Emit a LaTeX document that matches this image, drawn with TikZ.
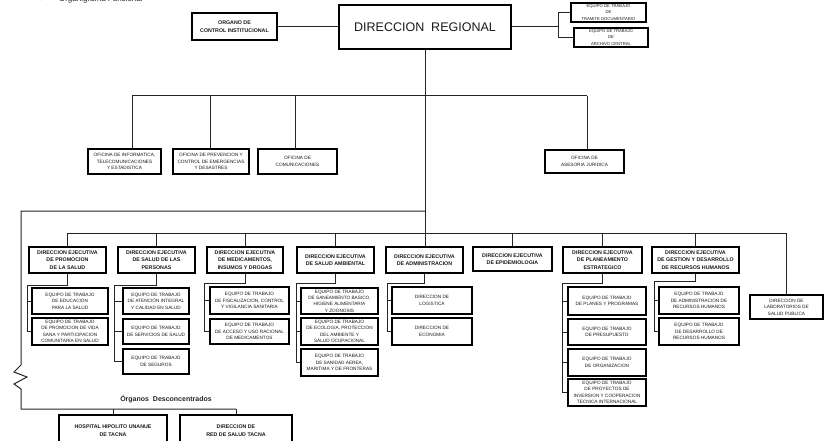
\documentclass[tikz,border=0pt]{standalone}
\usepackage{fontspec}
\setmainfont{Liberation Sans}
\newfontfamily\symfont{DejaVu Sans}
% \orgbox[style]{name}{x1}{y1}{x2}{y2}{text}: a framed box given by its corners
\newcommand\orgbox[7][box]{%
  \node[#1, minimum width={#5-#3}, minimum height={#6-#4}] (#2)
    at ({(#3+#5)/2},{(#4+#6)/2}) {#7};}
\begin{document}
\begin{tikzpicture}[x=1pt,y=-1pt,
  box/.style={draw=black, line width=1.1pt, inner sep=0pt, align=center,
    text=black!90, font=\fontsize{4.7}{6.4}\selectfont},
  execbox/.style={box, font=\bfseries\fontsize{5.3}{7.6}\selectfont},
  tinybox/.style={box, font=\fontsize{4.2}{6.2}\selectfont},
  wire/.style={draw=black!85, line width=1pt},
]
\useasboundingbox (0,0) rectangle (824,441);

% heading
\node[anchor=base west, inner sep=0pt, font=\fontsize{8}{9}\selectfont, text=black!85]
  (head) at (40,2) {{\symfont\fontsize{7}{9}\selectfont ➢}\hspace{13pt}Organigrama Funcional};

% top level
\orgbox[execbox]{org}{192}{13}{277}{40}{ORGANO DE\\CONTROL INSTITUCIONAL}
\orgbox[box, font=\fontsize{12.5}{14}\selectfont]{dr}{339}{5}{511}{49}{DIRECCION\ \ REGIONAL}
\orgbox[tinybox]{tram}{571}{3}{646}{22}{EQUIPO DE TRABAJO\\DE\\TRAMITE DOCUMENTARIO}
\orgbox[tinybox]{arch}{574}{28}{648}{47}{EQUIPO DE TRABAJO\\DE\\ARCHIVO CENTRAL}

% offices
\orgbox{inf}{88}{149}{161}{174}{OFICINA DE INFORMATICA,\\TELECOMUNICACIONES\\Y ESTADISTICA}
\orgbox{prev}{173}{149}{249}{174}{OFICINA DE PREVENCION Y\\CONTROL DE EMERGENCIAS\\Y DESASTRES}
\orgbox{com}{258}{149}{337}{174}{OFICINA DE\\COMUNICACIONES}
\orgbox{ases}{545}{150}{624}{173}{OFICINA DE\\ASESORIA JURIDICA}

% executive directions
\orgbox[execbox]{e1}{29}{247}{106}{273}{DIRECCION EJECUTIVA\\DE PROMOCION\\DE LA SALUD}
\orgbox[execbox]{e2}{118}{247}{195}{273}{DIRECCION EJECUTIVA\\DE SALUD DE LAS\\PERSONAS}
\orgbox[execbox]{e3}{207}{247}{283}{273}{DIRECCION EJECUTIVA\\DE MEDICAMENTOS,\\INSUMOS Y DROGAS}
\orgbox[execbox]{e4}{297}{247}{374}{273}{DIRECCION EJECUTIVA\\DE SALUD AMBIENTAL}
\orgbox[execbox]{e5}{386}{247}{463}{273}{DIRECCION EJECUTIVA\\DE ADMINISTRACION}
\orgbox[execbox]{e6}{473}{247}{552}{271}{DIRECCION EJECUTIVA\\DE EPIDEMIOLOGIA}
\orgbox[execbox]{e7}{563}{247}{642}{273}{DIRECCION EJECUTIVA\\DE PLANEAMIENTO\\ESTRATEGICO}
\orgbox[execbox]{e8}{652}{247}{739}{273}{DIRECCION EJECUTIVA\\DE GESTION Y DESARROLLO\\DE RECURSOS HUMANOS}
\orgbox{lab}{750}{295}{823}{319}{DIRECCION DE\\LABORATORIOS DE\\SALUD PUBLICA}

% working teams
\orgbox{g1a}{32}{288}{108}{314}{EQUIPO DE TRABAJO\\DE EDUCACION\\PARA LA SALUD}
\orgbox{g1b}{32}{318}{108}{345}{EQUIPO DE TRABAJO\\DE PROMOCION DE VIDA\\SANA Y PARTICIPACION\\COMUNITARIA EN SALUD}
\orgbox{g2a}{123}{288}{189}{314}{EQUIPO DE TRABAJO\\DE ATENCION INTEGRAL\\Y CALIDAD EN SALUD}
\orgbox{g2b}{123}{319}{189}{344}{EQUIPO DE TRABAJO\\DE SERVICIOS DE SALUD}
\orgbox{g2c}{123}{349}{189}{374}{EQUIPO DE TRABAJO\\DE SEGUROS}
\orgbox{g3a}{210}{287}{289}{314}{EQUIPO DE TRABAJO\\DE FISCALIZACION, CONTROL\\Y VIGILANCIA SANITARIA}
\orgbox{g3b}{210}{319}{289}{344}{EQUIPO DE TRABAJO\\DE ACCESO Y USO RACIONAL\\DE MEDICAMENTOS}
\orgbox{g4a}{301}{288}{378}{314}{EQUIPO DE TRABAJO\\DE SANEAMIENTO BASICO,\\HIGIENE ALIMENTARIA\\Y ZOONOSIS}
\orgbox{g4b}{301}{318}{378}{345}{EQUIPO DE TRABAJO\\DE ECOLOGIA, PROTECCION\\DEL AMBIENTE Y\\SALUD OCUPACIONAL}
\orgbox{g4c}{301}{349}{378}{376}{EQUIPO DE TRABAJO\\DE SANIDAD AEREA,\\MARITIMA Y DE FRONTERAS}
\orgbox{g5a}{392}{287}{472}{314}{DIRECCION DE\\LOGISTICA}
\orgbox{g5b}{392}{318}{472}{345}{DIRECCION DE\\ECONOMIA}
\orgbox{g7a}{568}{287}{646}{315}{EQUIPO DE TRABAJO\\DE PLANES Y PROGRAMAS}
\orgbox{g7b}{568}{319}{646}{345}{EQUIPO DE TRABAJO\\DE PRESUPUESTO}
\orgbox{g7c}{568}{349}{646}{376}{EQUIPO DE TRABAJO\\DE ORGANIZACION}
\orgbox{g7d}{568}{379}{646}{406}{EQUIPO DE TRABAJO\\DE PROYECTOS DE\\INVERSION Y COOPERACION\\TECNICA INTERNACIONAL}
\orgbox{g8a}{659}{287}{739}{314}{EQUIPO DE TRABAJO\\DE ADMINISTRACION DE\\RECURSOS HUMANOS}
\orgbox{g8b}{659}{318}{739}{345}{EQUIPO DE TRABAJO\\DE DESARROLLO DE\\RECURSOS HUMANOS}

% decentralised bodies
\node[anchor=base, inner sep=0pt, font=\bfseries\fontsize{7}{8}\selectfont, text=black!85]
  (odes) at (166,401) {Órganos\ \ Desconcentrados};
\orgbox[execbox]{hosp}{59}{415}{167}{446}{HOSPITAL HIPOLITO UNANUE\\DE TACNA}
\orgbox[execbox]{red}{180}{415}{292}{446}{DIRECCION DE\\RED DE SALUD TACNA}

% ---- connectors ----
\draw[wire] (org.east) -- (org.east -| dr.west);
\coordinate (rsplit) at (558,27);
\draw[wire] (dr.east) -- (rsplit);
\draw[wire] (tram.west) -| (rsplit);
\draw[wire] (arch.west) -| (rsplit);

% main spine
\draw[wire] (dr.south) -- (dr.south |- e5.north);

% offices bus
\coordinate (ob1) at (132,96);
\coordinate (ob2) at (210,96);
\coordinate (ob3) at (295,96);
\coordinate (ob4) at (587,96);
\draw[wire] (ob1) -- (ob4);
\draw[wire] (ob1) -- (ob1 |- inf.north);
\draw[wire] (ob2) -- (ob2 |- prev.north);
\draw[wire] (ob3) -- (ob3 |- com.north);
\draw[wire] (ob4) -- (ob4 |- ases.north);

% executive bus
\coordinate (lowbus) at (0,233);
\draw[wire] (e1.north |- lowbus) -- (lab.north |- lowbus);
\foreach \n in {e1,e2,e3,e4,e6,e7,e8,lab}
  \draw[wire] (\n.north) -- (\n.north |- lowbus);

% line to the decentralised bodies, with break mark
\coordinate (outer) at (21,211);
\coordinate (hbus) at (21,409);
\draw[wire, line join=miter] (dr.south |- outer) -- (outer) -- (21,365)
  -- (14,372) -- (27,377) -- (14,384) -- (21,389) -- (hbus)
  -- (red.north |- hbus);
\draw[wire] (hosp.north) -- (hosp.north |- hbus);
\draw[wire] (red.north) -- (red.north |- hbus);

% teams hanging from each direction
\draw[wire] (e1.south) |- (27,285) -- (27,0 |- g1b.west);
\foreach \s in {g1a,g1b} \draw[wire] (\s.west) -- (\s.west -| 27,0);
\draw[wire] (e2.south) |- (114,285) -- (114,0 |- g2c.west);
\foreach \s in {g2a,g2b,g2c} \draw[wire] (\s.west) -- (\s.west -| 114,0);
\draw[wire] (e3.south) |- (204,283) -- (204,0 |- g3b.west);
\foreach \s in {g3a,g3b} \draw[wire] (\s.west) -- (\s.west -| 204,0);
\draw[wire] (e4.south) |- (296,283) -- (296,0 |- g4c.west);
\foreach \s in {g4a,g4b,g4c} \draw[wire] (\s.west) -- (\s.west -| 296,0);
\draw[wire] (e5.south) |- (387,283) -- (387,0 |- g5b.west);
\foreach \s in {g5a,g5b} \draw[wire] (\s.west) -- (\s.west -| 387,0);
\draw[wire] (e7.south) |- (562,283) -- (562,0 |- g7d.west);
\foreach \s in {g7a,g7b,g7c,g7d} \draw[wire] (\s.west) -- (\s.west -| 562,0);
\draw[wire] (e8.south) |- (654,281) -- (654,0 |- g8b.west);
\foreach \s in {g8a,g8b} \draw[wire] (\s.west) -- (\s.west -| 654,0);
\end{tikzpicture}
\end{document}
